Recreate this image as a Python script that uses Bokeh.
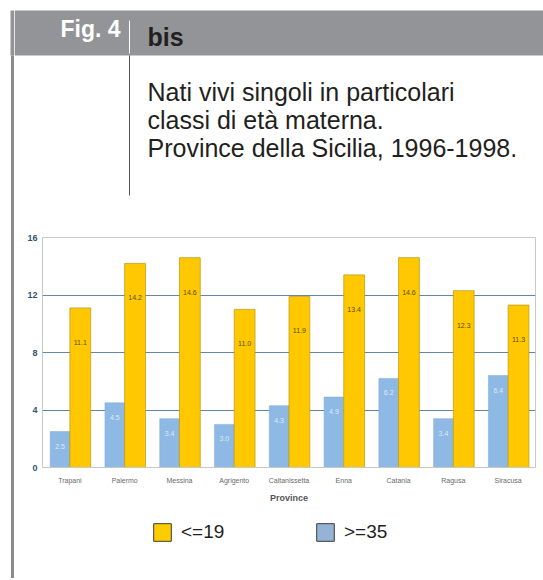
from bokeh.plotting import figure
from bokeh.layouts import column, row
from bokeh.models import FactorRange, Range1d, ColumnDataSource, Legend, LegendItem, LabelSet, FixedTicker
from bokeh.transform import dodge
from bokeh.core.properties import value
from bokeh.embed import file_html
from bokeh.resources import INLINE

provinces = ["Trapani", "Palermo", "Messina", "Agrigento", "Caltanissetta",
             "Enna", "Catania", "Ragusa", "Siracusa"]
under19 = [11.1, 14.2, 14.6, 11.0, 11.9, 13.4, 14.6, 12.3, 11.3]
over35 = [2.5, 4.5, 3.4, 3.0, 4.3, 4.9, 6.2, 3.4, 6.4]
y_ticks = [0, 4, 8, 12, 16]
title_fig = "Fig. 4"
title_bis = "bis"
subtitle = ["Nati vivi singoli in particolari",
            "classi di età materna.",
            "Province della Sicilia, 1996-1998."]
series_names = ["<=19", ">=35"]
x_title = "Province"

FONT = value("Liberation Sans")
GRAY = "#929497"
LINE = "#8c8c8c"
W, H, HH = 543, 578, 215
CH = 290          # chart figure height (page y 215..505)
SW = 14           # left strip width (holds the long vertical rule)

# ---------- left strip: full-height rule ----------
strip = figure(width=SW, height=H, x_range=Range1d(0, SW), y_range=Range1d(H, 0),
               toolbar_location=None, output_backend="svg", min_border=0,
               x_axis_location=None, y_axis_location=None)
strip.grid.visible = False
strip.outline_line_color = None
strip.quad(left=10, right=SW, top=10, bottom=55, fill_color=GRAY, line_color=None)
strip.segment(x0=12, y0=55, x1=12, y1=H, line_color=LINE, line_width=3)

# ---------- header ----------
header = figure(width=W - SW, height=HH, x_range=Range1d(SW, W), y_range=Range1d(HH, 0),
                toolbar_location=None, output_backend="svg", min_border=0,
                x_axis_location=None, y_axis_location=None)
header.grid.visible = False
header.outline_line_color = None
header.quad(left=SW, right=W, top=10, bottom=55, fill_color=GRAY, line_color=None)
header.segment(x0=129, y0=20, x1=129, y1=53, line_color="white", line_width=1)
header.text(x=[120], y=[28], text=[title_fig], text_align="right", text_baseline="middle",
            text_color="white", text_font_size="23px", text_font_style="bold", text_font=FONT)
header.text(x=[147], y=[36], text=[title_bis], text_align="left", text_baseline="middle",
            text_color="#231f20", text_font_size="25px", text_font_style="bold", text_font=FONT)
header.segment(x0=129, y0=55, x1=129, y1=195, line_color="#555555", line_width=1)
header.text(x=[147] * 3, y=[91, 119, 147], text=subtitle, text_align="left",
            text_baseline="middle", text_color="#231f20", text_font_size="25px", text_font=FONT)

# ---------- chart ----------
src = ColumnDataSource(dict(prov=provinces, u=under19, o=over35,
                            ul=[f"{v:.1f}" for v in under19],
                            ol=[f"{v:.1f}" for v in over35]))
p = figure(width=W - SW, height=CH, x_range=FactorRange(*provinces, range_padding=0),
           y_range=Range1d(0, 16), toolbar_location=None, output_backend="svg",
           min_border_left=42 - SW, min_border_right=8, min_border_top=22,
           min_border_bottom=CH - 22 - 231)
p.outline_line_color = "#c8c8c8"
p.xgrid.grid_line_color = None
p.ygrid.grid_line_color = "#6486a8"
p.ygrid.grid_line_width = 1
p.yaxis.ticker = FixedTicker(ticks=y_ticks)
p.yaxis.axis_line_color = None
p.yaxis.major_tick_line_color = None
p.yaxis.major_tick_out = 0
p.yaxis.major_tick_in = 0
p.yaxis.minor_tick_line_color = None
p.yaxis.major_label_text_font_size = "9px"
p.yaxis.major_label_text_font_style = "bold"
p.yaxis.major_label_text_color = "#2f5373"
p.yaxis.major_label_text_font = "Liberation Sans"
p.yaxis.major_label_standoff = 5
p.xaxis.axis_line_color = "#c8c8c8"
p.xaxis.major_tick_line_color = None
p.xaxis.major_tick_out = 0
p.xaxis.major_tick_in = 0
p.xaxis.major_label_text_font_size = "7px"
p.xaxis.major_label_text_color = "#6a6a6a"
p.xaxis.major_label_text_font = "Liberation Sans"
p.xaxis.major_label_standoff = 9
p.xaxis.axis_label = x_title
p.xaxis.axis_label_text_font_size = "9px"
p.xaxis.axis_label_text_font_style = "bold"
p.xaxis.axis_label_text_color = "#555555"
p.xaxis.axis_label_text_font = "Liberation Sans"
p.xaxis.axis_label_standoff = 6

rb = p.vbar(x=dodge("prov", -0.18, range=p.x_range), top="o", width=0.36, source=src,
            fill_color="#8fb9e5", line_color="#7fa9d6", line_width=0.5)
ry = p.vbar(x=dodge("prov", 0.19, range=p.x_range), top="u", width=0.38, source=src,
            fill_color="#ffc800", line_color="#b8960a", line_width=0.7)
p.add_layout(LabelSet(x=dodge("prov", 0.19, range=p.x_range), y="u", text="ul", source=src,
                      text_align="center", text_baseline="top", y_offset=-32,
                      text_font_size="7px", text_color="#5a4a00", text_font=FONT))
p.add_layout(LabelSet(x=dodge("prov", -0.18, range=p.x_range), y="o", text="ol", source=src,
                      text_align="center", text_baseline="top", y_offset=-12,
                      text_font_size="7px", text_color="#dce9f7", text_font=FONT))

# ---------- legend panel ----------
LH = H - HH - CH
leg = figure(width=W - SW, height=LH, x_range=Range1d(0, 1), y_range=Range1d(0, 1),
             toolbar_location=None, output_backend="svg", min_border=0,
             x_axis_location=None, y_axis_location=None)
leg.grid.visible = False
leg.outline_line_color = None
nan = float("nan")
swatch = ColumnDataSource(dict(x=[nan], top=[nan]))
ly = leg.vbar(x="x", top="top", width=0.1, source=swatch, fill_color="#ffcc00",
              line_color="#3a3a3a", line_width=1)
lb = leg.vbar(x="x", top="top", width=0.1, source=swatch, fill_color="#95b3d7",
              line_color="#3a3a3a", line_width=1)
legend = Legend(items=[LegendItem(label=series_names[0], renderers=[ly]),
                       LegendItem(label=series_names[1], renderers=[lb])],
                orientation="horizontal", location=(109, 35), margin=0, padding=0,
                spacing=51, glyph_width=22, glyph_height=22, label_standoff=8,
                label_width=82, label_height=22,
                label_text_font_size="19px", label_text_font="Liberation Sans",
                label_text_color="#231f20", border_line_color=None,
                background_fill_alpha=0)
leg.add_layout(legend)

layout = row(strip, column(header, column(p, leg, spacing=0), spacing=0), spacing=0)
open("out.html", "w").write(file_html(layout, INLINE))
